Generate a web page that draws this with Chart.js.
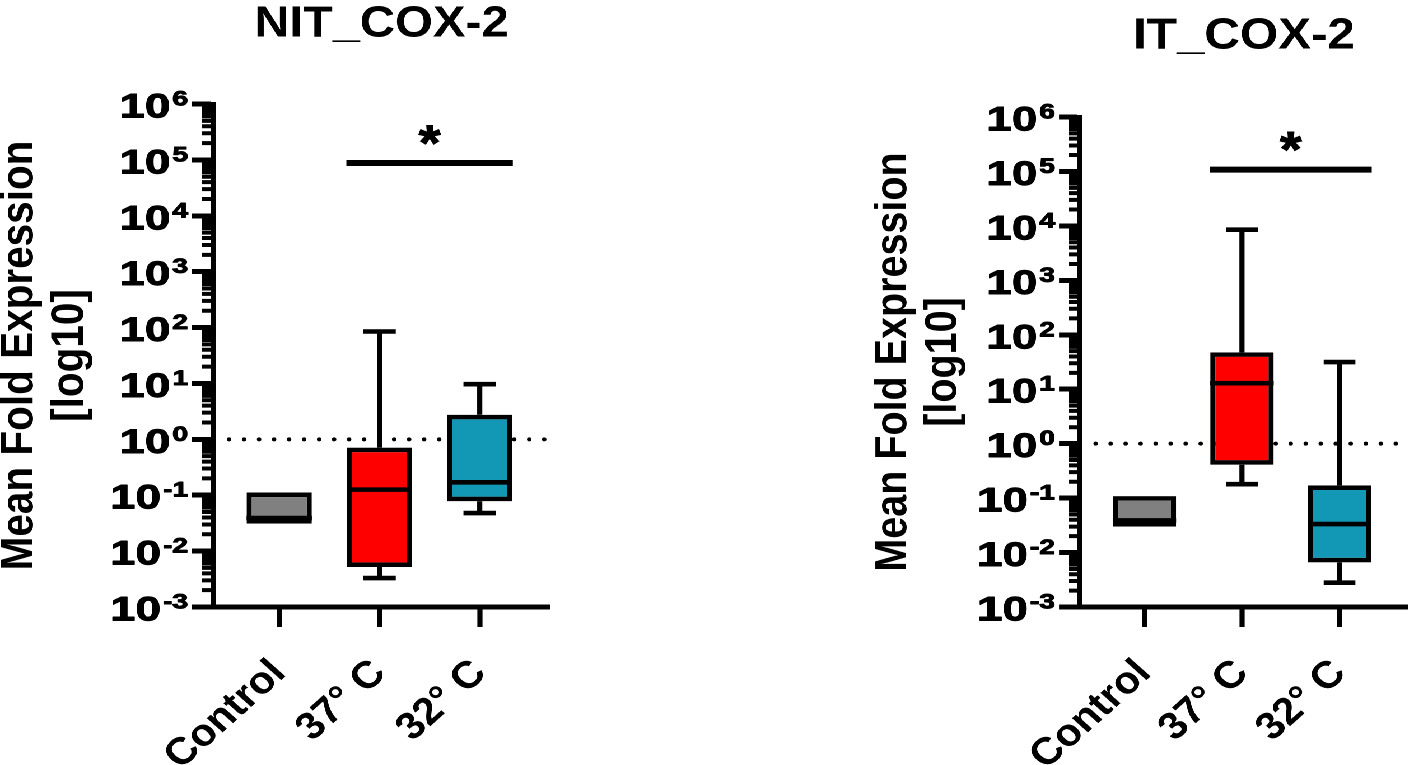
<!DOCTYPE html>
<html>
<head>
<meta charset="utf-8">
<script src="https://cdn.jsdelivr.net/npm/chart.js@4.4.1/dist/chart.umd.min.js"></script>
<style>
  html, body { margin: 0; padding: 0; background: #fff; overflow: hidden; }
  /* the figure is a little wider than it is tall, so the whole stage is stretched */
  #stage { position: absolute; left: 0; top: 0; width: 1265px; height: 765px;
           transform: scaleX(1.12); transform-origin: 0 0; }
  #stage canvas { position: absolute; top: 0; }
</style>
</head>
<body>
<div id="stage">
  <canvas id="nit" width="632" height="765" style="left:0px"></canvas>
  <canvas id="it" width="633" height="765" style="left:632px"></canvas>
</div>
<script>
const FONT = "'Liberation Sans', Arial, Helvetica, sans-serif";
Chart.defaults.font.family = FONT;
Chart.defaults.font.weight = 'bold';
Chart.defaults.color = '#000';

const categories = ['Control', '37° C', '32° C'];
const boxColors = ['#808080', '#ff0000', '#1298b4'];
const decades = [-3, -2, -1, 0, 1, 2, 3, 4, 5, 6];
const minorSteps = [2, 3, 4, 5, 6, 7, 8, 9];
const yTitle = ['Mean Fold Expression', '[log10]'];
const referenceLevel = 1;
const sigPair = [1, 2];
const sigText = '*';

// NIT_COX-2
const nitTitle = 'NIT_COX-2';
const nitMin = [0.031, 0.0033, 0.048];
const nitQ1 = [0.031, 0.0052, 0.078];
const nitMedian = [0.039, 0.126, 0.17];
const nitQ3 = [0.112, 0.71, 2.75];
const nitMax = [0.112, 85, 9.7];
const nitSig = 8.8e4;

// IT_COX-2
const itTitle = 'IT_COX-2';
const itMin = [0.030, 0.18, 0.0028];
const itQ1 = [0.030, 0.41, 0.0066];
const itMedian = [0.039, 12.9, 0.0334];
const itQ3 = [0.109, 47.6, 0.171];
const itMax = [0.109, 8500, 31.6];
const itSig = 1.08e5;

// minor log ticks and the 10^n labels
const axisDecor = {
  id: 'axisDecor',
  afterDraw(chart) {
    const ctx = chart.ctx;
    const ys = chart.scales.y;
    const left = chart.chartArea.left;
    ctx.save();
    ctx.strokeStyle = '#000';
    ctx.fillStyle = '#000';
    ctx.lineWidth = 4;
    ctx.beginPath();
    decades.slice(0, -1).forEach(e => {
      minorSteps.forEach(k => {
        const py = ys.getPixelForValue(k * Math.pow(10, e));
        ctx.moveTo(left - 9.8, py);
        ctx.lineTo(left, py);
      });
    });
    ctx.stroke();

    ctx.textAlign = 'right';
    ctx.textBaseline = 'alphabetic';
    ctx.lineWidth = 0.9;
    ctx.lineJoin = 'round';
    decades.forEach(e => {
      const py = ys.getPixelForValue(Math.pow(10, e));
      ctx.save();
      ctx.translate(left - 22.3, py);
      ctx.scale(1.2, 1);
      ctx.font = 'bold 21px ' + FONT;
      const exp = String(e);
      const w = ctx.measureText(exp).width;
      ctx.fillText(exp, 0, 1.5);
      ctx.strokeText(exp, 0, 1.5);
      ctx.font = 'bold 34px ' + FONT;
      ctx.fillText('10', -w - 1.5, 13.5);
      ctx.strokeText('10', -w - 1.5, 13.5);
      ctx.restore();
    });
    ctx.restore();
  }
};

// medians, whiskers and the significance star
const boxExtras = {
  id: 'boxExtras',
  afterDatasetsDraw(chart, args, opts) {
    const ctx = chart.ctx;
    const ys = chart.scales.y;
    const xs = chart.scales.x;
    const meta = chart.getDatasetMeta(1);
    ctx.save();
    ctx.strokeStyle = '#000';
    ctx.lineWidth = 4.6;
    ctx.lineCap = 'butt';
    ctx.beginPath();
    meta.data.forEach((bar, i) => {
      const half = bar.width / 2;
      const cap = bar.width / 4;
      const yMed = ys.getPixelForValue(opts.median[i]);
      ctx.moveTo(bar.x - half, yMed);
      ctx.lineTo(bar.x + half, yMed);
      if (opts.max[i] > opts.q3[i]) {
        const yTop = ys.getPixelForValue(opts.max[i]);
        ctx.moveTo(bar.x, ys.getPixelForValue(opts.q3[i]));
        ctx.lineTo(bar.x, yTop);
        ctx.moveTo(bar.x - cap, yTop);
        ctx.lineTo(bar.x + cap, yTop);
      }
      if (opts.min[i] < opts.q1[i]) {
        const yBot = ys.getPixelForValue(opts.min[i]);
        ctx.moveTo(bar.x, ys.getPixelForValue(opts.q1[i]));
        ctx.lineTo(bar.x, yBot);
        ctx.moveTo(bar.x - cap, yBot);
        ctx.lineTo(bar.x + cap, yBot);
      }
    });
    ctx.stroke();

    ctx.font = 'bold 50px ' + FONT;
    ctx.textAlign = 'center';
    ctx.textBaseline = 'alphabetic';
    ctx.fillStyle = '#000';
    ctx.lineWidth = 1;
    const sx = xs.getPixelForValue((sigPair[0] + sigPair[1]) / 2);
    const sy = ys.getPixelForValue(opts.sig) - 3;
    ctx.fillText(sigText, sx, sy);
    ctx.strokeText(sigText, sx, sy);
    ctx.restore();
  }
};

function makePanel(id, title, mins, q1s, meds, q3s, maxs, sig, lay) {
  const xMin = -0.66, xMax = 2.7;
  return new Chart(document.getElementById(id), {
    type: 'bar',
    data: {
      datasets: [
        {
          type: 'line',
          data: [{x: -0.5, y: referenceLevel}, {x: xMax, y: referenceLevel}],
          borderColor: '#000',
          borderWidth: 4,
          borderDash: [0, 13.4],
          borderCapStyle: 'round',
          pointRadius: 0,
          order: 3
        },
        {
          type: 'bar',
          data: categories.map((c, i) => ({x: i, y: [q1s[i], q3s[i]]})),
          backgroundColor: boxColors,
          borderColor: '#000',
          borderWidth: 4.6,
          borderSkipped: false,
          barPercentage: 0.65,
          categoryPercentage: 1,
          order: 2
        },
        {
          type: 'line',
          data: [{x: sigPair[0] - 0.33, y: sig}, {x: sigPair[1] + 0.33, y: sig}],
          borderColor: '#000',
          borderWidth: 6,
          pointRadius: 0,
          order: 1
        }
      ]
    },
    options: {
      responsive: false,
      animation: false,
      devicePixelRatio: 2,
      layout: {padding: {left: 0, top: 0, right: lay.right, bottom: 0}},
      plugins: {
        legend: {display: false},
        tooltip: {enabled: false},
        title: {
          display: true,
          text: title,
          fullSize: false,
          color: '#000',
          font: {size: lay.titleSize, weight: 'bold', lineHeight: 1},
          padding: {top: lay.titleTop, bottom: lay.titleBottom}
        },
        boxExtras: {min: mins, q1: q1s, median: meds, q3: q3s, max: maxs, sig: sig}
      },
      scales: {
        x: {
          type: 'linear',
          min: xMin,
          max: xMax,
          offset: false,
          afterBuildTicks: s => { s.ticks = categories.map((c, i) => ({value: i})); },
          afterFit: s => { s.height = 158; },
          ticks: {
            callback: v => categories[v],
            minRotation: 45,
            maxRotation: 45,
            autoSkip: false,
            padding: 24,
            color: '#000',
            font: {size: 38, weight: 'bold'}
          },
          grid: {display: true, offset: false, drawOnChartArea: false, drawTicks: true,
                 tickLength: 20, tickWidth: 4.6, tickColor: '#000'},
          border: {display: true, width: 5, color: '#000'}
        },
        y: {
          type: 'logarithmic',
          min: 1e-3,
          max: 1e6,
          afterBuildTicks: s => { s.ticks = decades.map(e => ({value: Math.pow(10, e), major: true})); },
          afterFit: s => { s.width = lay.axisLeft; },
          ticks: {display: false},
          grid: {display: true, drawOnChartArea: false, drawTicks: true,
                 tickLength: 18.75, tickWidth: 5, tickColor: '#000'},
          border: {display: true, width: 4.5, color: '#000'},
          title: {
            display: true,
            text: yTitle,
            color: '#000',
            font: {size: lay.yTitleSize, weight: 'bold', lineHeight: lay.yTitleLine},
            padding: {top: lay.yTitlePad, bottom: 0}
          }
        }
      }
    },
    plugins: [axisDecor, boxExtras]
  });
}

makePanel('nit', nitTitle, nitMin, nitQ1, nitMedian, nitQ3, nitMax, nitSig, {
  right: 141, axisLeft: 190.2, titleSize: 43.5, titleTop: 2.5, titleBottom: 58,
  yTitleSize: 40.5, yTitleLine: 1.11, yTitlePad: -4.8
});
makePanel('it', itTitle, itMin, itQ1, itMedian, itQ3, itMax, itSig, {
  right: 8, axisLeft: 332.3, titleSize: 44, titleTop: 14.5, titleBottom: 58.5,
  yTitleSize: 39.5, yTitleLine: 1.12, yTitlePad: 144
});
</script>
</body>
</html>
